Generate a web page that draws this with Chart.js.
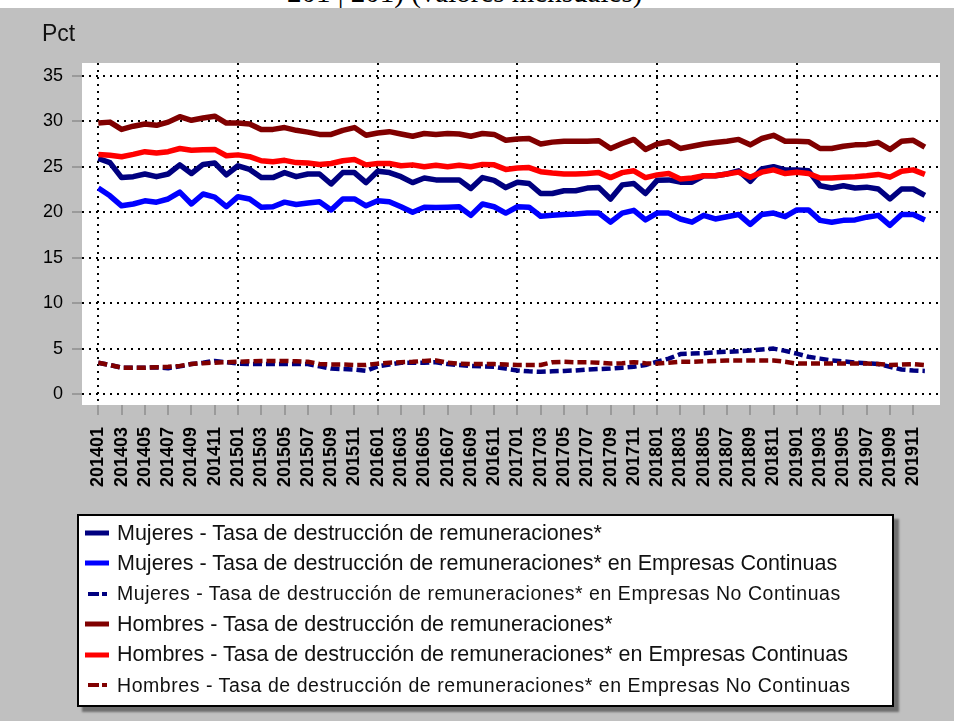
<!DOCTYPE html>
<html>
<head>
<meta charset="utf-8">
<script src="https://cdn.jsdelivr.net/npm/chart.js@4/dist/chart.umd.min.js"></script>
<style>
  html, body { margin: 0; padding: 0; }
  body { width: 954px; height: 721px; background: #c0c0c0; position: relative; overflow: hidden;
         font-family: "Liberation Sans", Arial, sans-serif; }
  #topstrip { position: absolute; left: 0; top: 0; width: 954px; height: 8px; background: #fff; overflow: hidden; }
  #topstrip span { position: absolute; left: 287px; top: -22px; font: 29px/1 "Liberation Serif", "Times New Roman", serif; color: #000; white-space: nowrap; }
  #pct { position: absolute; left: 42px; top: 20px; font-size: 23px; color: #111; }
  #chart { position: absolute; left: 0; top: 0; }
  #legend { position: absolute; left: 77px; top: 514px; width: 817px; height: 193px; box-sizing: border-box;
            border: 2px solid #000; background: #fff; box-shadow: 5px 5px 2px #6e6e6e; }
  #legend .row { position: absolute; left: 0; height: 30px; display: flex; align-items: center; white-space: nowrap; color: #111; }
  #legend canvas { margin-left: 6px; margin-right: 8px; }
</style>
</head>
<body>
<div id="topstrip"><span>201 | 201) (valores mensuales)</span></div>
<canvas id="chart" width="954" height="721"></canvas>
<div id="pct">Pct</div>
<div id="legend"></div>
<script>
// months 201401 .. 201912
const months = [];
for (let y = 2014; y <= 2019; y++) {
  for (let m = 1; m <= 12; m++) months.push(String(y) + (m < 10 ? '0' : '') + m);
}

const seriesNames = [
  'Mujeres - Tasa de destrucción de remuneraciones*',
  'Mujeres - Tasa de destrucción de remuneraciones* en Empresas Continuas',
  'Mujeres - Tasa de destrucción de remuneraciones* en Empresas No Continuas',
  'Hombres - Tasa de destrucción de remuneraciones*',
  'Hombres - Tasa de destrucción de remuneraciones* en Empresas Continuas',
  'Hombres - Tasa de destrucción de remuneraciones* en Empresas No Continuas'
];

const mujeresTotal = [
  25.9, 25.45, 23.8, 23.9, 24.2, 23.9, 24.2, 25.2, 24.25, 25.25, 25.4, 24.1,
  25.1, 24.7, 23.8, 23.8, 24.35, 23.9, 24.2, 24.2, 23.1, 24.35, 24.35, 23.25,
  24.5, 24.35, 23.9, 23.25, 23.75, 23.55, 23.55, 23.55, 22.6, 23.8, 23.5, 22.7,
  23.3, 23.15, 22.05, 22.05, 22.35, 22.35, 22.65, 22.7, 21.45, 23.0, 23.15, 22.05,
  23.5, 23.55, 23.3, 23.3, 24.0, 24.0, 24.2, 24.55, 23.4, 24.75, 25.0, 24.65,
  24.65, 24.55, 22.9, 22.65, 22.9, 22.65, 22.75, 22.55, 21.45, 22.55, 22.55, 21.85
];
const mujeresCont = [
  22.65, 21.8, 20.7, 20.9, 21.25, 21.1, 21.45, 22.2, 20.9, 22.0, 21.65, 20.6,
  21.7, 21.45, 20.55, 20.6, 21.1, 20.85, 21.0, 21.15, 20.25, 21.45, 21.45, 20.7,
  21.25, 21.15, 20.6, 20.0, 20.55, 20.5, 20.55, 20.6, 19.65, 20.9, 20.6, 19.9,
  20.6, 20.55, 19.55, 19.65, 19.75, 19.8, 19.9, 19.9, 18.9, 19.9, 20.2, 19.15,
  19.9, 19.9, 19.25, 18.9, 19.65, 19.25, 19.5, 19.75, 18.65, 19.75, 19.9, 19.5,
  20.25, 20.25, 19.1, 18.9, 19.1, 19.15, 19.45, 19.65, 18.55, 19.75, 19.75, 19.15
];
const mujeresNoCont = [
  3.45, 3.2, 2.9, 2.9, 2.9, 2.95, 2.85, 3.05, 3.3, 3.45, 3.65, 3.5,
  3.35, 3.3, 3.3, 3.3, 3.3, 3.3, 3.3, 3.05, 2.8, 2.75, 2.7, 2.55,
  3.05, 3.25, 3.45, 3.45, 3.45, 3.5, 3.3, 3.2, 3.1, 3.05, 3.0, 2.8,
  2.6, 2.5, 2.45, 2.5, 2.55, 2.6, 2.7, 2.75, 2.8, 2.9, 3.0, 3.2,
  3.55, 3.9, 4.4, 4.45, 4.5, 4.6, 4.65, 4.7, 4.8, 4.9, 5.0, 4.75,
  4.45, 4.1, 3.9, 3.7, 3.6, 3.45, 3.4, 3.3, 3.0, 2.7, 2.6, 2.55
];
const hombresTotal = [
  29.8, 29.9, 29.1, 29.45, 29.7, 29.55, 29.9, 30.5, 30.1, 30.35, 30.55, 29.8,
  29.8, 29.7, 29.1, 29.1, 29.3, 29.0, 28.8, 28.55, 28.55, 29.0, 29.3, 28.45,
  28.7, 28.85, 28.6, 28.35, 28.65, 28.55, 28.65, 28.6, 28.35, 28.65, 28.55, 27.9,
  28.05, 28.1, 27.5, 27.7, 27.8, 27.8, 27.8, 27.85, 27.0, 27.55, 28.0, 26.9,
  27.5, 27.75, 27.0, 27.25, 27.5, 27.65, 27.8, 28.0, 27.4, 28.1, 28.45, 27.8,
  27.8, 27.75, 27.0, 27.0, 27.25, 27.4, 27.45, 27.65, 26.9, 27.8, 27.9, 27.15
];
const hombresCont = [
  26.35, 26.25, 26.1, 26.35, 26.65, 26.5, 26.65, 27.0, 26.8, 26.85, 26.9, 26.2,
  26.3, 26.1, 25.65, 25.55, 25.7, 25.45, 25.4, 25.25, 25.35, 25.65, 25.8, 25.2,
  25.35, 25.35, 25.1, 25.2, 25.0, 25.15, 25.0, 25.15, 25.0, 25.25, 25.2, 24.7,
  24.85, 24.9, 24.45, 24.3, 24.2, 24.2, 24.25, 24.35, 23.8, 24.35, 24.55, 23.8,
  24.1, 24.25, 23.65, 23.75, 24.0, 24.0, 24.2, 24.4, 23.85, 24.4, 24.65, 24.25,
  24.4, 24.25, 23.75, 23.75, 23.85, 23.9, 24.0, 24.15, 23.85, 24.5, 24.65, 24.15
];
const hombresNoCont = [
  3.45, 3.2, 2.9, 2.9, 2.9, 2.95, 3.0, 3.1, 3.3, 3.4, 3.45, 3.5,
  3.55, 3.6, 3.65, 3.65, 3.65, 3.6, 3.55, 3.3, 3.25, 3.25, 3.2, 3.2,
  3.35, 3.45, 3.5, 3.55, 3.65, 3.7, 3.45, 3.35, 3.3, 3.3, 3.3, 3.25,
  3.2, 3.2, 3.2, 3.5, 3.55, 3.5, 3.5, 3.45, 3.35, 3.4, 3.5, 3.4,
  3.35, 3.45, 3.55, 3.55, 3.6, 3.65, 3.7, 3.7, 3.7, 3.7, 3.7, 3.55,
  3.35, 3.35, 3.35, 3.35, 3.35, 3.35, 3.35, 3.3, 3.2, 3.25, 3.3, 3.2
];

const yTicks = [0, 5, 10, 15, 20, 25, 30, 35];
const xTickIdx = months.map((m, i) => i).filter(i => i % 2 === 0); // 201401, 201403, ...

const FONT = '"Liberation Sans", Arial, sans-serif';

function pts(arr) {
  return arr.map((v, i) => ({ x: i, y: v }));
}

function line(label, data, color, dashed, order) {
  return {
    label: label,
    data: pts(data),
    borderColor: color,
    backgroundColor: color,
    borderWidth: dashed ? 4.5 : 5.5,
    borderDash: dashed ? [9, 4] : [],
    borderCapStyle: 'butt',
    borderJoinStyle: 'round',
    pointRadius: 0,
    tension: 0,
    fill: false,
    order: order
  };
}

// white plot background
const plotBg = {
  id: 'plotBg',
  beforeDraw(chart) {
    const a = chart.chartArea;
    const ctx = chart.ctx;
    ctx.save();
    ctx.fillStyle = '#fff';
    ctx.fillRect(a.left, a.top, a.right - a.left, a.bottom - a.top);
    ctx.restore();
  }
};

// html legend built from the datasets
const htmlLegend = {
  id: 'htmlLegend',
  afterUpdate(chart) {
    const box = document.getElementById('legend');
    box.innerHTML = '';
    chart.data.datasets.forEach((ds, i) => {
      const dashed = ds.borderDash.length > 0;
      const row = document.createElement('div');
      row.className = 'row';
      row.style.top = (2 + 30.4 * i) + 'px';
      const c = document.createElement('canvas');
      c.width = 24; c.height = 10;
      const g = c.getContext('2d');
      g.strokeStyle = ds.borderColor;
      g.lineWidth = dashed ? 4 : 5;
      if (dashed) g.setLineDash([11, 3, 5, 3]);
      g.beginPath();
      g.moveTo(dashed ? 3 : 0, 5);
      g.lineTo(24, 5);
      g.stroke();
      row.appendChild(c);
      const t = document.createElement('span');
      t.textContent = ds.label;
      if (dashed) {
        t.style.fontSize = '19.5px';
        t.style.letterSpacing = '0.55px';
      } else {
        t.style.fontSize = '21.5px';
      }
      row.appendChild(t);
      box.appendChild(row);
    });
  }
};

new Chart(document.getElementById('chart'), {
  type: 'line',
  data: {
    datasets: [
      line(seriesNames[0], mujeresTotal, '#000080', false, 6),
      line(seriesNames[1], mujeresCont, '#0000ff', false, 5),
      line(seriesNames[2], mujeresNoCont, '#000080', true, 4),
      line(seriesNames[3], hombresTotal, '#800000', false, 3),
      line(seriesNames[4], hombresCont, '#ff0000', false, 2),
      line(seriesNames[5], hombresNoCont, '#800000', true, 1)
    ]
  },
  options: {
    responsive: false,
    animation: false,
    devicePixelRatio: 1,
    layout: { padding: { top: 63, right: 14, left: 0, bottom: 0 } },
    plugins: {
      legend: { display: false },
      tooltip: { enabled: false }
    },
    scales: {
      x: {
        type: 'linear',
        min: -1.4,
        max: 72.3,
        afterBuildTicks: (s) => { s.ticks = xTickIdx.map(v => ({ value: v })); },
        afterFit: (s) => { s.height = 316; },
        ticks: {
          autoSkip: false,
          minRotation: 90,
          maxRotation: 90,
          padding: 12,
          color: '#000',
          font: { family: FONT, size: 18, weight: 'bold' },
          callback: (v) => months[v]
        },
        grid: {
          color: (c) => (c.tick && c.tick.value % 12 === 0) ? '#000' : 'rgba(0,0,0,0)',
          lineWidth: 2,
          tickColor: '#9a9a9a',
          tickWidth: 2,
          tickLength: 10,
          tickBorderDash: []
        },
        border: { display: false, dash: [2, 5] }
      },
      y: {
        min: -1.2,
        max: 36.4,
        afterBuildTicks: (s) => { s.ticks = yTicks.map(v => ({ value: v })); },
        afterFit: (s) => { s.width = 82; },
        ticks: {
          padding: 9,
          color: '#000',
          font: { family: FONT, size: 18 }
        },
        grid: {
          color: '#000',
          lineWidth: 2,
          tickColor: '#9a9a9a',
          tickWidth: 2,
          tickLength: 10,
          tickBorderDash: []
        },
        border: { display: false, dash: [2, 5] }
      }
    }
  },
  plugins: [plotBg, htmlLegend]
});
</script>
</body>
</html>
